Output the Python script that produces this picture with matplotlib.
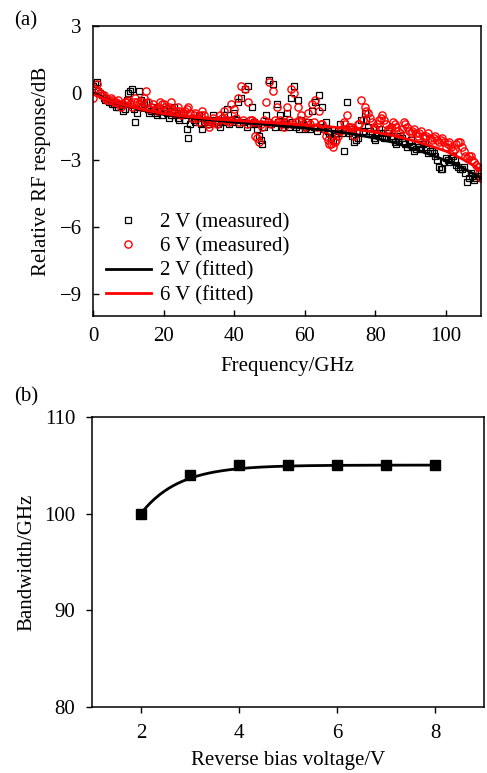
import numpy as np
import matplotlib
matplotlib.use("Agg")
import matplotlib.pyplot as plt

plt.rcParams['font.family'] = ['Liberation Serif', 'DejaVu Serif']

# (a) measured relative RF response (dB)
# points on whole GHz
freq_a = np.arange(0, 111, 1)
resp_2v_a = [0.3, 0.5, 0.0, -0.2, -0.3, -0.4, -0.5, -0.6, -0.5, -0.7,
             0.0, 0.2, -1.3, 0.1, -0.6, -0.4, -0.9, -0.6, -1.0, -0.8,
             -0.7, -0.9, -1.0, -0.6, -1.1, -0.9, -1.2, -2.0, -1.1, -1.3,
             -1.0, -1.6, -1.2, -1.4, -1.0, -1.3, -1.5, -1.0, -0.7, -1.2,
             -0.9, -0.4, -0.2, 0.2, 0.3, -0.6, -1.4, -1.9, -2.3, -1.0,
             0.6, 0.4, -0.5, -1.0, -1.3, -0.9, -0.2, 0.3, -0.3, -1.2,
             -1.6, -1.3, -0.8, -0.4, -0.1, -0.6, -1.3, -1.8, -2.1, -1.9,
             -1.4, -2.6, -0.4, -1.6, -2.2, -2.0, -1.2, -0.9, -1.5, -1.8,
             -2.1, -1.6, -1.9, -2.0, -1.7, -2.0, -2.3, -1.9, -2.2, -2.4,
             -2.1, -2.6, -2.3, -2.5, -2.2, -2.7, -2.6, -2.8, -3.3, -3.4,
             -2.9, -3.1, -2.8, -3.2, -3.4, -3.3, -4.0, -3.6, -3.9, -3.7,
             -3.6]
resp_6v_a = [-0.2, 0.4, 0.0, -0.1, -0.3, -0.2, -0.4, -0.3, -0.6, -0.4,
             -0.3, -0.6, -0.2, -0.5, -0.4, 0.1, -0.7, -0.5, -0.8, -0.4,
             -0.5, -0.7, -0.4, -0.9, -0.6, -1.0, -0.8, -0.6, -1.1, -0.9,
             -1.3, -0.8, -1.2, -1.5, -1.1, -1.4, -1.0, -0.8, -1.2, -0.5,
             -0.7, -0.2, 0.3, 0.2, -0.4, -1.2, -1.9, -2.2, -1.5, -0.4,
             0.5, 0.1, -0.6, -1.2, -1.5, -0.6, 0.2, 0.0, -0.6, -1.0,
             -1.5, -0.9, -0.5, -0.3, -0.8, -1.4, -1.9, -2.3, -2.4, -2.1,
             -1.7, -1.3, -1.0, -1.5, -1.9, -1.4, -0.3, -0.6, -0.9, -1.3,
             -1.6, -1.2, -1.0, -1.4, -1.7, -1.3, -1.5, -1.8, -1.3, -1.5,
             -1.8, -1.6, -1.9, -1.7, -2.0, -1.8, -2.1, -1.9, -2.2, -2.0,
             -2.4, -2.2, -2.6, -2.3, -2.2, -2.6, -2.9, -2.8, -3.1, -3.3,
             -3.8]
# points on half GHz
freq_b = np.arange(0.5, 110, 1)
resp_2v_b = [0.4, 0.1, -0.1, -0.3, -0.4, -0.5, -0.6, -0.5, -0.8, -0.3,
             0.1, -0.7, -0.9, -0.3, -0.5, -0.7, -0.8, -0.9, -0.8, -1.0,
             -0.8, -1.1, -0.8, -1.0, -1.2, -1.0, -1.6, -1.4, -1.2, -1.1,
             -1.4, -1.3, -1.3, -1.2, -1.2, -1.4, -1.3, -1.2, -1.4, -1.3,
             -1.2, -1.4, -1.3, -1.5, -1.4, -1.3, -1.6, -2.1, -1.5, -1.3,
             -1.4, -1.5, -1.3, -1.5, -1.4, -1.5, -1.3, -1.5, -1.6, -1.4,
             -1.5, -1.6, -1.5, -1.7, -1.5, -1.6, -1.7, -2.0, -1.8, -1.7,
             -1.8, -1.6, -1.8, -1.9, -2.1, -1.8, -1.7, -1.2, -1.7, -2.0,
             -1.8, -1.8, -2.0, -1.8, -1.9, -2.2, -2.1, -2.0, -2.3, -2.2,
             -2.4, -2.5, -2.4, -2.3, -2.5, -2.6, -2.7, -3.0, -3.4, -3.1,
             -3.0, -2.9, -3.0, -3.3, -3.4, -3.6, -3.8, -3.7, -3.8, -3.7]
resp_6v_b = [0.2, 0.1, -0.1, -0.2, -0.3, -0.3, -0.4, -0.5, -0.5, -0.4,
             -0.5, -0.4, -0.4, -0.6, -0.2, -0.4, -0.6, -0.7, -0.6, -0.5,
             -0.6, -0.6, -0.7, -0.8, -0.8, -0.9, -0.7, -0.9, -1.0, -1.1,
             -1.0, -1.0, -1.4, -1.3, -1.3, -1.2, -1.1, -1.2, -1.3, -1.2,
             -1.1, -1.3, -1.2, -1.4, -1.2, -1.3, -2.0, -1.4, -1.2, -1.3,
             -1.4, -1.2, -1.3, -1.4, -1.3, -1.2, -1.4, -1.3, -1.2, -1.4,
             -1.3, -1.4, -1.3, -1.5, -1.4, -1.6, -2.1, -2.3, -2.2, -1.9,
             -1.6, -1.4, -1.5, -1.6, -1.7, -1.4, -1.2, -0.8, -1.1, -1.5,
             -1.4, -1.1, -1.2, -1.6, -1.5, -1.4, -1.7, -1.6, -1.4, -1.7,
             -1.7, -1.8, -1.8, -1.9, -1.9, -2.0, -2.0, -2.1, -2.1, -2.2,
             -2.3, -2.4, -2.5, -2.2, -2.4, -2.8, -2.8, -3.0, -3.2, -3.6]

# fitted curves, every 5 GHz
freq_fit = np.arange(0, 111, 5)
fit_2v = [0.0, -0.35, -0.6, -0.8, -0.95, -1.05, -1.15, -1.22, -1.3, -1.35,
          -1.42, -1.5, -1.57, -1.65, -1.75, -1.87, -2.02, -2.2, -2.45,
          -2.72, -3.02, -3.38, -3.8]
fit_6v = [-0.05, -0.35, -0.58, -0.77, -0.92, -1.02, -1.1, -1.17, -1.22,
          -1.27, -1.32, -1.37, -1.42, -1.48, -1.55, -1.63, -1.75, -1.9,
          -2.1, -2.33, -2.6, -2.98, -3.45]

# (b) bandwidth vs reverse bias
bias = [2, 3, 4, 5, 6, 7, 8]
bandwidth = [100, 104, 105, 105, 105, 105, 105]
k_sat = 1.3  # saturation rate of the fitted curve (1/V)

freq = np.concatenate([freq_a, freq_b])
resp_2v = np.concatenate([resp_2v_a, resp_2v_b])
resp_6v = np.concatenate([resp_6v_a, resp_6v_b])

fig = plt.figure(figsize=(4.87, 7.73), dpi=100)

# ---- (a)
ax1 = fig.add_axes([0.191, 0.591, 0.797, 0.375])
ax1.plot(freq, resp_2v, 's', mfc='none', mec='black', ms=4.3, mew=0.9,
         label='2 V (measured)')
ax1.plot(freq, resp_6v, 'o', mfc='none', mec='red', ms=5.2, mew=1.0,
         label='6 V (measured)')
ax1.plot(freq_fit, fit_2v, color='black', lw=2, label='2 V (fitted)')
ax1.plot(freq_fit, fit_6v, color='red', lw=2, label='6 V (fitted)')

ax1.set_xlim(0, 110)
ax1.set_ylim(-10, 3)
ax1.set_xticks([0, 20, 40, 60, 80, 100])
ax1.set_yticks([3, 0, -3, -6, -9])
ax1.tick_params(direction='in', labelsize=15, length=4, width=1, pad=8)
ax1.set_xlabel('Frequency/GHz', fontsize=15, labelpad=8)
ax1.set_ylabel('Relative RF response/dB', fontsize=15, labelpad=6)
ax1.legend(loc='lower left', bbox_to_anchor=(0.0, -0.005), frameon=False,
           fontsize=15, handlelength=2.2, handletextpad=0.4,
           labelspacing=0.22, borderaxespad=0.2)
for s in ax1.spines.values():
    s.set_linewidth(1.1)

# ---- (b)
ax2 = fig.add_axes([0.189, 0.085, 0.805, 0.376])
bb = np.linspace(2, 8, 200)
b0 = bandwidth[0]
b_sat = bandwidth[-1]
ax2.plot(bb, b_sat - (b_sat - b0) * np.exp(-k_sat * (bb - bias[0])), color='black', lw=2)
ax2.plot(bias, bandwidth, 's', color='black', ms=6.5)
ax2.set_xlim(1, 9)
ax2.set_ylim(80, 110)
ax2.set_xticks([2, 4, 6, 8])
ax2.set_yticks([80, 90, 100, 110])
ax2.tick_params(direction='out', labelsize=15, length=4, width=1, pad=8)
ax2.set_xlabel('Reverse bias voltage/V', fontsize=15, labelpad=6)
ax2.set_ylabel('Bandwidth/GHz', fontsize=15, labelpad=6)
for s in ax2.spines.values():
    s.set_linewidth(1.1)

fig.text(0.03, 0.985, '(a)', fontsize=15, va='top')
fig.text(0.03, 0.499, '(b)', fontsize=15, va='top')

fig.savefig('out.png', dpi=100)
